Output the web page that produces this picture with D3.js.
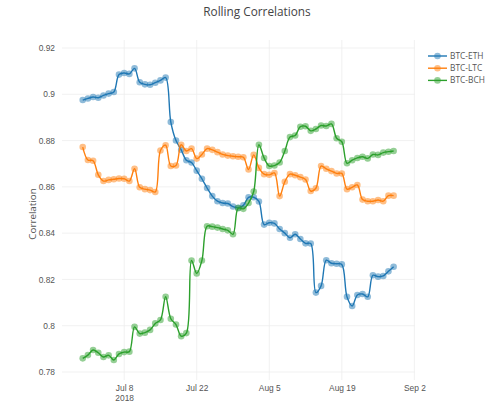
<!DOCTYPE html>
<html>
<head>
<meta charset="utf-8">
<script src="https://cdn.jsdelivr.net/npm/d3@7"></script>
<style>
  body { margin: 0; background: #fff; }
  svg { font-family: "Open Sans", sans-serif; }
</style>
</head>
<body>
<svg id="chart" width="500" height="406"></svg>
<script>
// ================= DATOS =================
const primerDia = new Date(2018, 5, 29, 12);
const ultimoDia = new Date(2018, 7, 28, 12);

const series = ["BTC-ETH", "BTC-LTC", "BTC-BCH"];
const colores = ["#1f77b4", "#ff7f0e", "#2ca02c"];

const btcEth = [
  0.8975, 0.8982, 0.8988, 0.8985, 0.8995, 0.9003, 0.9010, 0.9085, 0.9092, 0.9088,
  0.9112, 0.9052, 0.9043, 0.9041, 0.9050, 0.9060, 0.9072, 0.8880, 0.8800, 0.8760,
  0.8715, 0.8705, 0.8670, 0.8635, 0.8595, 0.8560, 0.8538, 0.8530, 0.8528, 0.8515,
  0.8510, 0.8520, 0.8555, 0.8555, 0.8537, 0.8437, 0.8445, 0.8442, 0.8418, 0.8400,
  0.8380, 0.8395, 0.8375, 0.8356, 0.8355, 0.8143, 0.8172, 0.8283, 0.8270, 0.8268,
  0.8265, 0.8125, 0.8085, 0.8133, 0.8137, 0.8125, 0.8218, 0.8212, 0.8215, 0.8235,
  0.8255
];
const btcLtc = [
  0.8772, 0.8716, 0.8713, 0.8652, 0.8625, 0.8630, 0.8633, 0.8636, 0.8635, 0.8625,
  0.8678, 0.8598, 0.8590, 0.8586, 0.8578, 0.8757, 0.8780, 0.8690, 0.8692, 0.8782,
  0.8755, 0.8765, 0.8722, 0.8740, 0.8765, 0.8760, 0.8750, 0.8740, 0.8735, 0.8732,
  0.8730, 0.8728, 0.8675, 0.8738, 0.8682, 0.8655, 0.8652, 0.8660, 0.8560, 0.8622,
  0.8655, 0.8650, 0.8642, 0.8632, 0.8582, 0.8594, 0.8690, 0.8678, 0.8668, 0.8658,
  0.8658, 0.8590, 0.8598, 0.8608, 0.8545, 0.8538, 0.8538, 0.8543, 0.8538, 0.8562,
  0.8562
];
const btcBch = [
  0.7859, 0.7873, 0.7895, 0.7883, 0.7865, 0.7872, 0.7852, 0.7878, 0.7886, 0.7888,
  0.7995, 0.7966, 0.7970, 0.7982, 0.8010, 0.8025, 0.8125, 0.8030, 0.8005, 0.7955,
  0.7968, 0.8282, 0.8226, 0.8282, 0.8430, 0.8428, 0.8424, 0.8418, 0.8412, 0.8395,
  0.8508, 0.8505, 0.8530, 0.8580, 0.8782, 0.8725, 0.8690, 0.8692, 0.8705, 0.8755,
  0.8815, 0.8822, 0.8860, 0.8862, 0.8842, 0.8850, 0.8865, 0.8863, 0.8872, 0.8810,
  0.8795, 0.8702, 0.8715, 0.8725, 0.8730, 0.8723, 0.8740, 0.8738, 0.8748, 0.8752,
  0.8755
];

const ticksX = [new Date(2018, 6, 8), new Date(2018, 6, 22), new Date(2018, 7, 5), new Date(2018, 7, 19), new Date(2018, 8, 2)];
const ticksY = [0.78, 0.8, 0.82, 0.84, 0.86, 0.88, 0.9, 0.92];

// ================= ESCALAS =================
const dias = d3.timeDay.range(primerDia, d3.timeDay.offset(ultimoDia, 1));
const valores = [btcEth, btcLtc, btcBch];

const svg = d3.select("#chart");
const izq = 62, der = 415, arriba = 40, abajo = 380;

const x = d3.scaleTime()
  .domain([new Date(2018, 5, 26), new Date(2018, 8, 2, 3)])
  .range([izq, der]);
const y = d3.scaleLinear()
  .domain([0.78, 0.92])
  .range([372, 48]);

// rejilla
svg.append("g")
  .selectAll("line")
  .data(ticksX)
  .enter()
  .append("line")
  .attr("x1", d => x(d)).attr("x2", d => x(d))
  .attr("y1", arriba).attr("y2", abajo)
  .attr("stroke", "#eee").attr("stroke-width", 0.8);

svg.append("g")
  .selectAll("line")
  .data(ticksY)
  .enter()
  .append("line")
  .attr("x1", izq).attr("x2", der)
  .attr("y1", d => y(d)).attr("y2", d => y(d))
  .attr("stroke", "#eee").attr("stroke-width", 0.8);

// ejes
const ejeY = svg.append("g")
  .attr("transform", `translate(${izq - 4},0)`)
  .call(d3.axisLeft(y).tickValues(ticksY).tickSize(0).tickFormat(d3.format("")));
ejeY.select(".domain").remove();
ejeY.selectAll("text").attr("fill", "#555").attr("font-size", 8.4).attr("dy", "0.32em");

const formatoX = d3.timeFormat("%b %-d");
const ejeX = svg.append("g")
  .attr("transform", `translate(0,${abajo + 2})`)
  .call(d3.axisBottom(x).tickValues(ticksX).tickSize(0).tickFormat(formatoX));
ejeX.select(".domain").remove();
ejeX.selectAll("text").attr("fill", "#555").attr("font-size", 8.4).attr("dy", "0.7em");
ejeX.selectAll(".tick").filter((d, i) => i === 0)
  .append("text")
  .attr("fill", "#555").attr("font-size", 8.4)
  .attr("y", 13).attr("dy", "0.7em")
  .text("2018");

// titulos
svg.append("text")
  .attr("x", 257).attr("y", 16)
  .attr("text-anchor", "middle")
  .attr("fill", "#444").attr("font-size", 11.8)
  .text("Rolling Correlations");

svg.append("text")
  .attr("transform", `translate(36,214) rotate(-90)`)
  .attr("text-anchor", "middle")
  .attr("fill", "#555").attr("font-size", 9.8)
  .text("Correlation");

// ================= SERIES =================
const linea = d3.line()
  .x((d, i) => x(dias[i]))
  .y(d => y(d))
  .curve(d3.curveCatmullRom);

valores.forEach((vals, k) => {
  const g = svg.append("g");
  g.append("path")
    .attr("d", linea(vals))
    .attr("fill", "none")
    .attr("stroke", colores[k])
    .attr("stroke-width", 1.4);
  g.selectAll("circle")
    .data(vals)
    .enter()
    .append("circle")
    .attr("cx", (d, i) => x(dias[i]))
    .attr("cy", d => y(d))
    .attr("r", 3.3)
    .attr("fill", colores[k])
    .attr("fill-opacity", 0.5);
});

// ================= LEYENDA =================
const leyenda = svg.append("g")
  .selectAll("g")
  .data(series)
  .enter()
  .append("g")
  .attr("transform", (d, i) => `translate(428,${56 + i * 12.2})`);

leyenda.append("line")
  .attr("x1", 0).attr("x2", 19)
  .attr("stroke", (d, i) => colores[i]).attr("stroke-width", 1.4);
leyenda.append("circle")
  .attr("cx", 9.5).attr("r", 3.3)
  .attr("fill", (d, i) => colores[i]).attr("fill-opacity", 0.5);
leyenda.append("text")
  .attr("x", 22).attr("dy", "0.35em")
  .attr("fill", "#555").attr("font-size", 8.4)
  .text(d => d);
</script>
</body>
</html>
